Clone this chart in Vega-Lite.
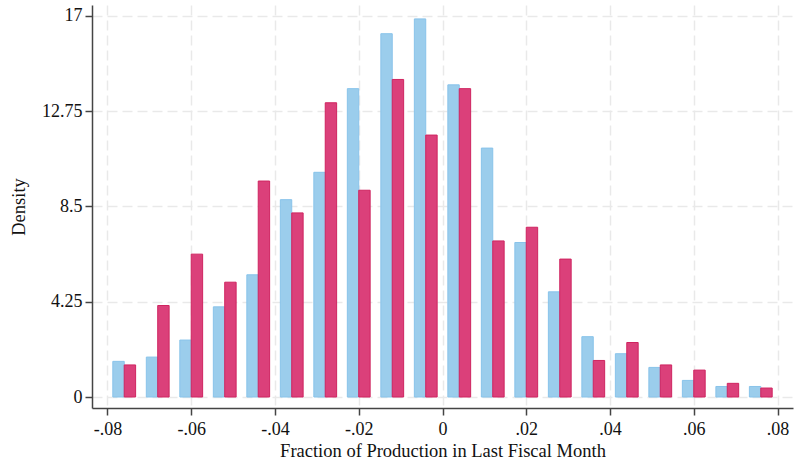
{
  "$schema": "https://vega.github.io/schema/vega-lite/v6.json",
  "width": 701,
  "height": 403,
  "autosize": {"type": "none"},
  "padding": {"left": 92, "top": 5, "right": 4, "bottom": 56},
  "background": "white",
  "config": {
    "view": {"stroke": null},
    "font": "Liberation Serif",
    "axis": {
      "labelFont": "Liberation Serif",
      "titleFont": "Liberation Serif",
      "labelFontSize": 18,
      "titleFontSize": 18.5,
      "titleFontWeight": "normal",
      "labelColor": "#111111",
      "titleColor": "#111111",
      "domainColor": "#444444",
      "domainWidth": 1.5,
      "tickColor": "#444444",
      "tickWidth": 1.5,
      "tickSize": 7,
      "gridColor": "#e9e9e9",
      "gridWidth": 1.5,
      "gridDash": [10, 5]
    }
  },
  "data": {
    "values": [
      {"bin": -0.076, "group": "A", "density": 1.59}, {"bin": -0.076, "group": "B", "density": 1.43},
      {"bin": -0.068, "group": "A", "density": 1.78}, {"bin": -0.068, "group": "B", "density": 4.08},
      {"bin": -0.060, "group": "A", "density": 2.54}, {"bin": -0.060, "group": "B", "density": 6.37},
      {"bin": -0.052, "group": "A", "density": 4.02}, {"bin": -0.052, "group": "B", "density": 5.12},
      {"bin": -0.044, "group": "A", "density": 5.45}, {"bin": -0.044, "group": "B", "density": 9.63},
      {"bin": -0.036, "group": "A", "density": 8.80}, {"bin": -0.036, "group": "B", "density": 8.21},
      {"bin": -0.028, "group": "A", "density": 10.02}, {"bin": -0.028, "group": "B", "density": 13.12},
      {"bin": -0.020, "group": "A", "density": 13.75}, {"bin": -0.020, "group": "B", "density": 9.22},
      {"bin": -0.012, "group": "A", "density": 16.20}, {"bin": -0.012, "group": "B", "density": 14.16},
      {"bin": -0.004, "group": "A", "density": 16.86}, {"bin": -0.004, "group": "B", "density": 11.68},
      {"bin": 0.004, "group": "A", "density": 13.92}, {"bin": 0.004, "group": "B", "density": 13.75},
      {"bin": 0.012, "group": "A", "density": 11.10}, {"bin": 0.012, "group": "B", "density": 6.96},
      {"bin": 0.020, "group": "A", "density": 6.89}, {"bin": 0.020, "group": "B", "density": 7.57},
      {"bin": 0.028, "group": "A", "density": 4.69}, {"bin": 0.028, "group": "B", "density": 6.15},
      {"bin": 0.036, "group": "A", "density": 2.69}, {"bin": 0.036, "group": "B", "density": 1.63},
      {"bin": 0.044, "group": "A", "density": 1.93}, {"bin": 0.044, "group": "B", "density": 2.43},
      {"bin": 0.052, "group": "A", "density": 1.32}, {"bin": 0.052, "group": "B", "density": 1.43},
      {"bin": 0.060, "group": "A", "density": 0.74}, {"bin": 0.060, "group": "B", "density": 1.20},
      {"bin": 0.068, "group": "A", "density": 0.47}, {"bin": 0.068, "group": "B", "density": 0.61},
      {"bin": 0.076, "group": "A", "density": 0.47}, {"bin": 0.076, "group": "B", "density": 0.40}
    ]
  },
  "encoding": {
    "x": {
      "field": "bin",
      "type": "quantitative",
      "scale": {"domain": [-0.0825, 0.0825], "nice": false, "zero": false},
      "axis": {
        "title": "Fraction of Production in Last Fiscal Month",
        "values": [-0.08, -0.06, -0.04, -0.02, 0, 0.02, 0.04, 0.06, 0.08],
        "labelExpr": "datum.value == 0 ? '0' : (datum.value < 0 ? '-' : '') + '.0' + round(abs(datum.value) * 100)",
        "labelPadding": 5,
        "titlePadding": 3,
        "grid": true
      }
    },
    "y": {
      "field": "density",
      "type": "quantitative",
      "scale": {"domain": [-0.49, 17.48], "nice": false, "zero": false},
      "axis": {
        "title": "Density",
        "values": [0, 4.25, 8.5, 12.75, 17],
        "labelExpr": "'' + datum.value",
        "labelPadding": 3,
        "titlePadding": 13,
        "grid": true
      }
    },
    "y2": {"datum": 0}
  },
  "layer": [
    {
      "transform": [{"filter": "datum.group == 'A'"}],
      "mark": {"type": "bar", "width": 11.4, "xOffset": -5.7, "fill": "#9bcdec", "stroke": "#88c3ea", "strokeWidth": 1}
    },
    {
      "transform": [{"filter": "datum.group == 'B'"}],
      "mark": {"type": "bar", "width": 11.4, "xOffset": 5.7, "fill": "#db407a", "stroke": "#cf2460", "strokeWidth": 1}
    }
  ]
}
